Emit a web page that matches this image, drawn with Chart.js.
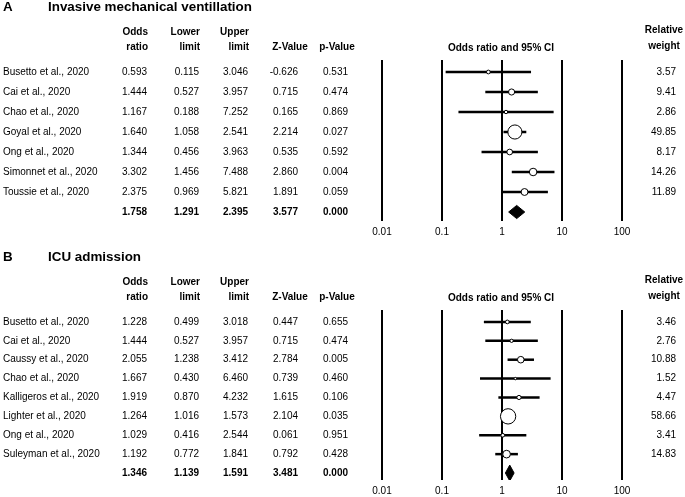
<!DOCTYPE html>
<html>
<head>
<meta charset="utf-8">
<title>Forest plots</title>
<script src="https://cdn.jsdelivr.net/npm/chart.js@4.4.1/dist/chart.umd.min.js"></script>
<style>
  body { margin: 0; background: #fff; }
  .panel { position: absolute; left: 0; }
  #wrapA { top: 0; }
  #wrapB { top: 250px; }
</style>
</head>
<body>
<div class="panel" id="wrapA"><canvas id="chartA" width="685" height="248"></canvas></div>
<div class="panel" id="wrapB"><canvas id="chartB" width="685" height="247"></canvas></div>
<script>
// panel A - invasive mechanical ventillation
const studiesA = ['Busetto et al., 2020', 'Cai et al., 2020', 'Chao et al., 2020', 'Goyal et al., 2020',
    'Ong et al., 2020', 'Simonnet et al., 2020', 'Toussie et al., 2020'];
const oddsA = [0.593, 1.444, 1.167, 1.640, 1.344, 3.302, 2.375];
const lowerA = [0.115, 0.527, 0.188, 1.058, 0.456, 1.456, 0.969];
const upperA = [3.046, 3.957, 7.252, 2.541, 3.963, 7.488, 5.821];
const zA = [-0.626, 0.715, 0.165, 2.214, 0.535, 2.860, 1.891];
const pA = [0.531, 0.474, 0.869, 0.027, 0.592, 0.004, 0.059];
const weightA = [3.57, 9.41, 2.86, 49.85, 8.17, 14.26, 11.89];
const pooledA = [1.758, 1.291, 2.395, 3.577, 0.000]; // odds, lower, upper, z, p

// panel B - ICU admission
const studiesB = ['Busetto et al., 2020', 'Cai et al., 2020', 'Caussy et al., 2020', 'Chao et al., 2020',
    'Kalligeros et al., 2020', 'Lighter et al., 2020', 'Ong et al., 2020', 'Suleyman et al., 2020'];
const oddsB = [1.228, 1.444, 2.055, 1.667, 1.919, 1.264, 1.029, 1.192];
const lowerB = [0.499, 0.527, 1.238, 0.430, 0.870, 1.016, 0.416, 0.772];
const upperB = [3.018, 3.957, 3.412, 6.460, 4.232, 1.573, 2.544, 1.841];
const zB = [0.447, 0.715, 2.784, 0.739, 1.615, 2.104, 0.061, 0.792];
const pB = [0.655, 0.474, 0.005, 0.460, 0.106, 0.035, 0.951, 0.428];
const weightB = [3.46, 2.76, 10.88, 1.52, 4.47, 58.66, 3.41, 14.83];
const pooledB = [1.346, 1.139, 1.591, 3.481, 0.000];

const xTicks = [0.01, 0.1, 1, 10, 100];

const FONT = 'Arial, "Liberation Sans", sans-serif';
const colRight = [147, 199, 248, 298, 348]; // right edge of each number column

// draws the table text next to the plot, rows follow the y scale
const tablePlugin = {
    id: 'forestTable',
    afterDraw(chart) {
        const info = chart.options.plugins.forestTable;
        const ctx = chart.ctx;
        const yScale = chart.scales.y;
        const top = chart.chartArea.top;
        const n = info.studies.length;

        ctx.save();
        ctx.fillStyle = '#000';
        ctx.textBaseline = 'middle';

        // title
        ctx.font = 'bold 13.4px ' + FONT;
        ctx.textAlign = 'left';
        ctx.fillText(info.letter, 3, 7);
        ctx.fillText(info.title, 48, 7);

        // column headers
        ctx.font = 'bold 10px ' + FONT;
        ctx.textAlign = 'right';
        ctx.fillText('Odds', 148, top - 28);
        ctx.fillText('ratio', 148, top - 13);
        ctx.fillText('Lower', 200, top - 28);
        ctx.fillText('limit', 200, top - 13);
        ctx.fillText('Upper', 249, top - 28);
        ctx.fillText('limit', 249, top - 13);
        ctx.textAlign = 'center';
        ctx.fillText('Z-Value', 290, top - 13);
        ctx.fillText('p-Value', 337, top - 13);
        ctx.fillText('Odds ratio and 95% CI', 501, top - 12);
        ctx.fillText('Relative', 664, top - 30);
        ctx.fillText('weight', 664, top - 14);

        // study rows
        ctx.font = '10px ' + FONT;
        info.studies.forEach((name, i) => {
            const y = yScale.getPixelForValue(i);
            ctx.textAlign = 'left';
            ctx.fillText(name, 3, y);
            ctx.textAlign = 'right';
            const vals = [info.odds[i], info.lower[i], info.upper[i], info.z[i], info.p[i]];
            vals.forEach((v, c) => ctx.fillText(v.toFixed(3), colRight[c], y));
            ctx.fillText(info.weight[i].toFixed(2), 676, y);
        });

        // pooled row
        ctx.font = 'bold 10px ' + FONT;
        ctx.textAlign = 'right';
        const yp = yScale.getPixelForValue(n);
        info.pooled.forEach((v, c) => ctx.fillText(v.toFixed(3), colRight[c], yp));
        ctx.restore();
    }
};

function makePanel(canvasId, info) {
    const n = info.studies.length;
    const datasets = [];

    // open circles, area follows the relative weight
    datasets.push({
        data: info.odds.map((v, i) => ({ x: v, y: i })),
        pointRadius: (c) => Math.sqrt(info.weight[c.dataIndex]),
        pointBackgroundColor: '#fff',
        pointBorderColor: '#000',
        pointBorderWidth: 1,
        order: 0
    });

    // pooled estimate diamond
    const pl = info.pooled;
    datasets.push({
        data: [
            { x: pl[1], y: n },
            { x: pl[0], y: n - info.diamond },
            { x: pl[2], y: n },
            { x: pl[0], y: n + info.diamond },
            { x: pl[1], y: n }
        ],
        showLine: true,
        fill: 'shape',
        backgroundColor: '#000',
        borderColor: '#000',
        borderWidth: 1,
        pointRadius: 0,
        tension: 0,
        order: 0
    });

    // confidence interval whiskers
    info.studies.forEach((s, i) => {
        datasets.push({
            data: [{ x: info.lower[i], y: i }, { x: info.upper[i], y: i }],
            showLine: true,
            borderColor: '#000',
            borderWidth: 2.5,
            pointRadius: 0,
            order: 1
        });
    });

    const ctx = document.getElementById(canvasId).getContext('2d');
    new Chart(ctx, {
        type: 'scatter',
        data: { datasets: datasets },
        options: {
            responsive: false,
            animation: false,
            events: [],
            layout: { padding: { left: 382, right: 63, top: 60, bottom: info.padBottom } },
            scales: {
                x: {
                    type: 'logarithmic',
                    min: 0.01,
                    max: 100,
                    afterBuildTicks: (scale) => {
                        scale.ticks = xTicks.map(v => ({ value: v }));
                    },
                    afterFit: (scale) => { scale.height = 14; },
                    ticks: {
                        autoSkip: false,
                        maxRotation: 0,
                        padding: 5,
                        color: '#000',
                        font: { family: FONT, size: 10 },
                        callback: (v) => String(v)
                    },
                    grid: { color: '#000', lineWidth: 2, drawTicks: false },
                    border: { display: false }
                },
                y: {
                    type: 'linear',
                    reverse: true,
                    min: info.yMin,
                    max: info.yMax,
                    display: false
                }
            },
            plugins: {
                legend: { display: false },
                tooltip: { enabled: false },
                forestTable: info
            }
        },
        plugins: [tablePlugin]
    });
}

makePanel('chartA', {
    letter: 'A', title: 'Invasive mechanical ventillation',
    studies: studiesA, odds: oddsA, lower: lowerA, upper: upperA,
    z: zA, p: pA, weight: weightA, pooled: pooledA,
    yMin: -0.6, yMax: 7.45, diamond: 0.33, padBottom: 13
});

makePanel('chartB', {
    letter: 'B', title: 'ICU admission',
    studies: studiesB, odds: oddsB, lower: lowerB, upper: upperB,
    z: zB, p: pB, weight: weightB, pooled: pooledB,
    yMin: -0.632, yMax: 8.37, diamond: 0.42, padBottom: 3
});
</script>
</body>
</html>
